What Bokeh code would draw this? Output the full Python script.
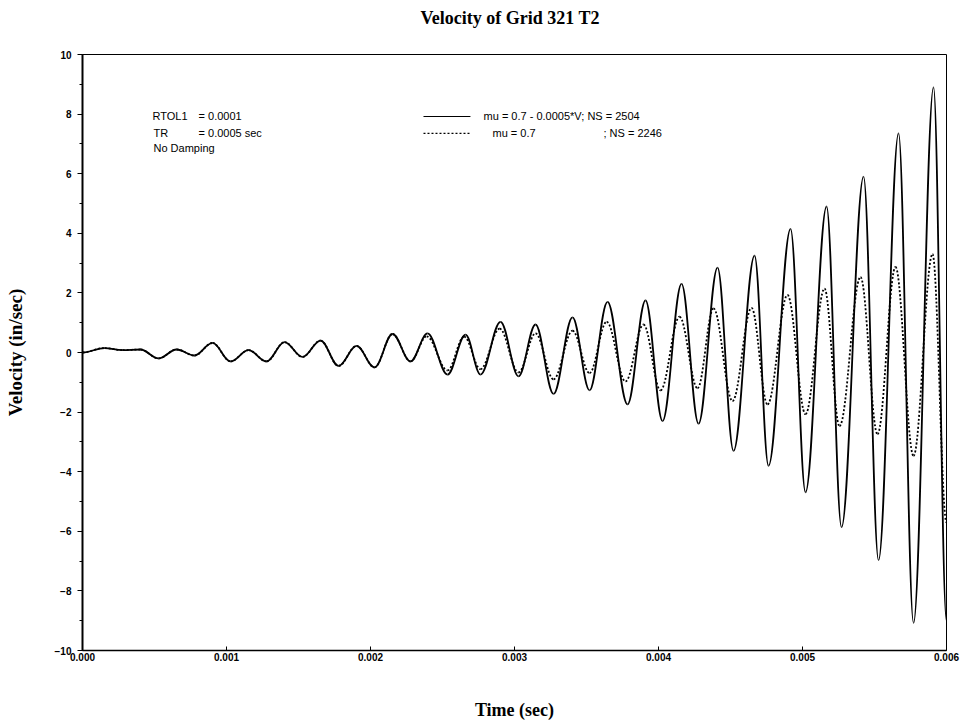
from bokeh.plotting import figure
from bokeh.models import SingleIntervalTicker, FixedTicker, PrintfTickFormatter, Range1d, Div
from bokeh.layouts import column
from bokeh.core.properties import value
from bokeh.embed import file_html
from bokeh.resources import INLINE

# ---- data (time in ms, velocity in in/sec) ----
t_solid_ms = [0.000, 0.153, 0.278, 0.403, 0.528, 0.653, 0.778, 0.903, 1.028, 1.153,
              1.278, 1.403, 1.528, 1.653, 1.778, 1.903, 2.028, 2.153, 2.278, 2.396,
              2.535, 2.660, 2.764, 2.903, 3.028, 3.146, 3.271, 3.403, 3.521, 3.646,
              3.785, 3.910, 4.028, 4.160, 4.278, 4.410, 4.521, 4.667, 4.764, 4.917,
              5.021, 5.167, 5.271, 5.424, 5.528, 5.667, 5.771, 5.910, 6.000]
v_solid = [0.00, 0.15, 0.08, 0.10, -0.20, 0.10, -0.10, 0.32, -0.30, 0.08,
           -0.30, 0.35, -0.15, 0.40, -0.45, 0.22, -0.50, 0.62, -0.30, 0.64,
           -0.74, 0.60, -0.74, 1.03, -0.80, 0.94, -1.39, 1.18, -1.27, 1.70,
           -1.74, 1.75, -2.30, 2.30, -2.39, 2.85, -3.30, 3.25, -3.80, 4.15,
           -4.69, 4.90, -5.86, 5.90, -6.97, 7.35, -9.07, 8.90, -9.00]

t_dash_ms = [0.000, 0.153, 0.278, 0.403, 0.528, 0.653, 0.778, 0.903, 1.028, 1.153,
             1.278, 1.403, 1.528, 1.653, 1.778, 1.903, 2.028, 2.153, 2.278, 2.390,
             2.535, 2.650, 2.764, 2.897, 3.028, 3.146, 3.271, 3.403, 3.521, 3.640,
             3.771, 3.896, 4.014, 4.146, 4.271, 4.382, 4.514, 4.646, 4.757, 4.896,
             5.021, 5.153, 5.257, 5.403, 5.521, 5.646, 5.771, 5.903, 6.000]
v_dash = [0.00, 0.15, 0.08, 0.10, -0.20, 0.10, -0.10, 0.32, -0.30, 0.08,
          -0.30, 0.35, -0.15, 0.40, -0.45, 0.22, -0.50, 0.62, -0.30, 0.54,
          -0.60, 0.53, -0.56, 0.80, -0.67, 0.64, -0.90, 0.73, -0.69, 1.03,
          -0.97, 0.94, -1.27, 1.20, -1.20, 1.48, -1.63, 1.50, -1.74, 1.93,
          -2.07, 2.14, -2.47, 2.53, -2.74, 2.87, -3.47, 3.30, -5.70]

x_ticks = [0.000, 0.001, 0.002, 0.003, 0.004, 0.005, 0.006]
y_ticks = [-10, -8, -6, -4, -2, 0, 2, 4, 6, 8, 10]

title_text = "Velocity of Grid 321 T2"
x_label = "Time (sec)"
y_label = "Velocity (in/sec)"
legend_solid = "mu = 0.7 - 0.0005*V; NS = 2504"
legend_dash_a = "mu = 0.7"
legend_dash_b = "; NS = 2246"
note_keys = ["RTOL1", "TR", "No Damping"]
note_vals = ["= 0.0001", "= 0.0005 sec"]

SANS = "Liberation Sans"
SERIF = "Liberation Serif"

title_div = Div(text=title_text, width=960, height=36,
                styles={"font-family": SERIF, "font-size": "18px", "font-weight": "bold",
                        "color": "black", "text-align": "center", "line-height": "36px",
                        "padding-left": "60px", "box-sizing": "border-box",
                        "margin": "0px"})

p = figure(width=960, height=686, output_backend="svg", toolbar_location=None,
           x_range=Range1d(0, 0.006), y_range=Range1d(-10, 10),
           min_border_left=82, min_border_right=14, min_border_top=18, min_border_bottom=72)

p.xgrid.visible = False
p.ygrid.visible = False
p.outline_line_color = "black"
p.outline_line_width = 1
p.background_fill_color = "white"
p.border_fill_color = "white"

# axes
p.xaxis.ticker = FixedTicker(ticks=x_ticks)
p.xaxis.formatter = PrintfTickFormatter(format="%.3f")
p.yaxis.ticker = SingleIntervalTicker(interval=2, num_minor_ticks=2)
for ax in (p.xaxis, p.yaxis):
    ax.axis_line_color = "black"
    ax.major_tick_line_color = "black"
    ax.minor_tick_line_color = "black"
    ax.major_label_text_font = SANS
    ax.major_label_text_font_style = "bold"
    ax.major_label_text_font_size = "10px"
    ax.major_label_text_color = "black"
    ax.axis_label_text_font = SERIF
    ax.axis_label_text_font_style = "bold"
    ax.axis_label_text_color = "black"

p.xaxis.axis_label = x_label
p.xaxis.axis_label_text_font_size = "18px"
p.xaxis.axis_line_width = 1.5
p.xaxis.major_tick_in = 4
p.xaxis.major_tick_out = 0
p.xaxis.minor_tick_in = 0
p.xaxis.minor_tick_out = 0
p.xaxis.major_label_standoff = 2
p.xaxis.axis_label_standoff = 36

p.yaxis.axis_label = y_label
p.yaxis.axis_label_text_font_size = "19px"
p.yaxis.axis_line_width = 2
p.yaxis.major_tick_in = 0
p.yaxis.major_tick_out = 5
p.yaxis.minor_tick_in = 0
p.yaxis.minor_tick_out = 3
p.yaxis.major_label_standoff = 6
p.yaxis.axis_label_standoff = 26


def bezier_parts(ts_ms, vs, k=0.36):
    ts = [t / 1000.0 for t in ts_ms]
    x0, y0, x1, y1, cx0, cy0, cx1, cy1 = [], [], [], [], [], [], [], []
    for i in range(len(ts) - 1):
        a, b = ts[i], ts[i + 1]
        d = b - a
        x0.append(a); y0.append(vs[i]); x1.append(b); y1.append(vs[i + 1])
        cx0.append(a + k * d); cy0.append(vs[i])
        cx1.append(b - k * d); cy1.append(vs[i + 1])
    return dict(x0=x0, y0=y0, x1=x1, y1=y1, cx0=cx0, cy0=cy0, cx1=cx1, cy1=cy1)


p.bezier(**bezier_parts(t_dash_ms, v_dash), line_color="black", line_width=1.8,
         line_dash="2 2")
p.bezier(**bezier_parts(t_solid_ms, v_solid), line_color="black", line_width=1.8)

# legend (drawn by hand to keep its layout)
p.line(x=[0.002368, 0.002694], y=[7.92, 7.92], line_color="black", line_width=1.2)
p.line(x=[0.002368, 0.002701], y=[7.35, 7.35], line_color="black", line_width=1.2,
       line_dash="2 2")
p.text(x=[0.002785], y=[7.92], text=[legend_solid], text_font=value(SANS),
       text_font_size="11px", text_baseline="middle", text_align="left", text_color="black")
p.text(x=[0.002847, 0.003618], y=[7.35, 7.35], text=[legend_dash_a, legend_dash_b],
       text_font=value(SANS), text_font_size="11px", text_baseline="middle",
       text_align="left", text_color="black")

# notes at upper left
p.text(x=[0.000486, 0.000493, 0.000493], y=[7.92, 7.38, 6.85], text=note_keys,
       text_font=value(SANS), text_font_size="11px", text_baseline="middle",
       text_align="left", text_color="black")
p.text(x=[0.000806, 0.000806], y=[7.92, 7.38], text=note_vals,
       text_font=value(SANS), text_font_size="11px", text_baseline="middle",
       text_align="left", text_color="black")

layout = column(title_div, p, spacing=0)
open("out.html", "w").write(file_html(layout, INLINE))
